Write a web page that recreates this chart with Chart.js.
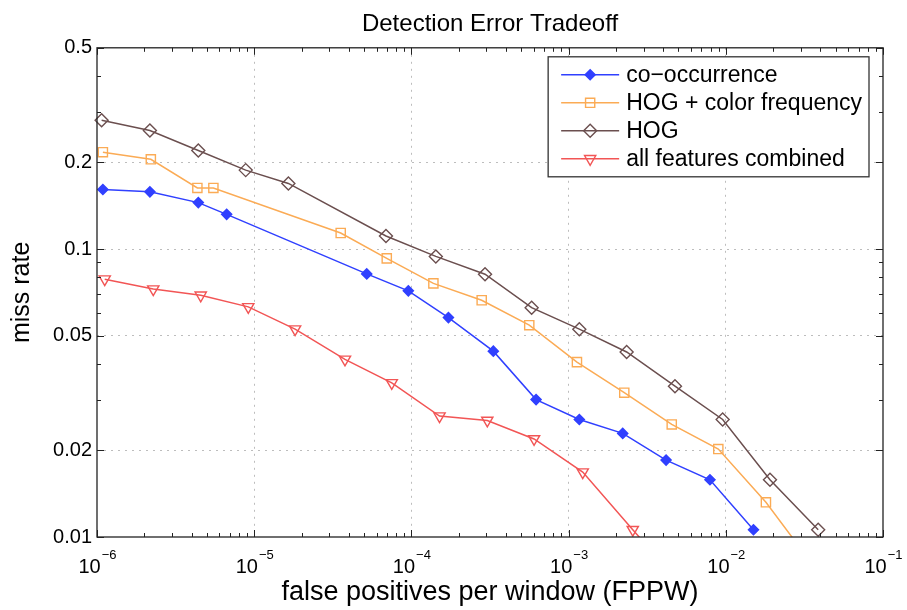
<!DOCTYPE html>
<html><head><meta charset="utf-8">
<script src="https://cdn.jsdelivr.net/npm/chart.js@4.4.1/dist/chart.umd.min.js"></script>
<style>html,body{margin:0;padding:0;background:#fff;overflow:hidden}canvas{display:block}</style>
</head><body>
<canvas id="c" width="907" height="610"></canvas>
<script>
const chartTitle = 'Detection Error Tradeoff';
const xAxisTitle = 'false positives per window (FPPW)';
const yAxisTitle = 'miss rate';
const seriesLabels = ['co\u2212occurrence', 'HOG + color frequency', 'HOG', 'all features combined'];

const xTickValues = [1e-6, 1e-5, 1e-4, 1e-3, 1e-2, 1e-1];
const xTickExponents = ['\u22126', '\u22125', '\u22124', '\u22123', '\u22122', '\u22121'];
const yTickValues = [0.01, 0.02, 0.05, 0.1, 0.2, 0.5];
const yTickLabels = ['0.01', '0.02', '0.05', '0.1', '0.2', '0.5'];

const cooccurFppw = [1.09e-6, 2.17e-6, 4.41e-6, 6.68e-6, 5.20e-5, 9.56e-5, 1.72e-4, 3.32e-4, 6.21e-4, 1.17e-3, 2.21e-3, 4.17e-3, 7.93e-3, 1.50e-2];
const cooccurMiss = [0.161, 0.158, 0.145, 0.132, 0.082, 0.0716, 0.0578, 0.0442, 0.0300, 0.0256, 0.0229, 0.0185, 0.0158, 0.0106];
const hogColorFppw = [1.09e-6, 2.20e-6, 4.35e-6, 5.50e-6, 3.55e-5, 6.97e-5, 1.38e-4, 2.80e-4, 5.62e-4, 1.13e-3, 2.26e-3, 4.53e-3, 8.96e-3, 1.80e-2, 3.64e-2];
const hogColorMiss = [0.217, 0.205, 0.163, 0.163, 0.1137, 0.0928, 0.0760, 0.0664, 0.0544, 0.0405, 0.0317, 0.0246, 0.0202, 0.0132, 0.0079];
const hogFppw = [1.07e-6, 2.17e-6, 4.41e-6, 8.83e-6, 1.65e-5, 6.89e-5, 1.43e-4, 2.94e-4, 5.82e-4, 1.17e-3, 2.34e-3, 4.75e-3, 9.55e-3, 1.91e-2, 3.87e-2];
const hogMiss = [0.280, 0.258, 0.220, 0.188, 0.169, 0.111, 0.0943, 0.0818, 0.0626, 0.0527, 0.0439, 0.0334, 0.0256, 0.0158, 0.0106];
const combinedFppw = [1.12e-6, 2.28e-6, 4.57e-6, 9.17e-6, 1.82e-5, 3.78e-5, 7.50e-5, 1.51e-4, 3.04e-4, 6.03e-4, 1.23e-3, 2.56e-3, 5.11e-3];
const combinedMiss = [0.0786, 0.0726, 0.0691, 0.0630, 0.0527, 0.0414, 0.0343, 0.0263, 0.0254, 0.0219, 0.0168, 0.0106, 0.0069];

const FONT = '"Liberation Sans", Arial, Helvetica, sans-serif';
Chart.defaults.font.family = FONT;
Chart.defaults.color = '#000';

function pts(xs, ys) { return xs.map((x, i) => ({ x: x, y: ys[i] })); }

const clipArea = { left: 6, top: 6, right: 6, bottom: 0 };
const datasets = [
  { label: seriesLabels[0], data: pts(cooccurFppw, cooccurMiss), borderColor: '#3040ff', backgroundColor: '#3040ff',
    pointStyle: 'rectRot', pointRadius: 5, pointBorderWidth: 1.5, borderWidth: 1.5 },
  { label: seriesLabels[1], data: pts(hogColorFppw, hogColorMiss), borderColor: '#fbab55', backgroundColor: 'rgba(0,0,0,0)',
    pointStyle: 'rect', pointRadius: 6.5, pointBorderWidth: 1.4, borderWidth: 1.5 },
  { label: seriesLabels[2], data: pts(hogFppw, hogMiss), borderColor: '#6b4f4f', backgroundColor: 'rgba(0,0,0,0)',
    pointStyle: 'rectRot', pointRadius: 6.5, pointBorderWidth: 1.4, borderWidth: 1.5 },
  { label: seriesLabels[3], data: pts(combinedFppw, combinedMiss), borderColor: '#f25555', backgroundColor: 'rgba(0,0,0,0)',
    pointStyle: 'triangle', pointRotation: 180, pointRadius: 6.5, pointBorderWidth: 1.4, borderWidth: 1.5 }
];
datasets.forEach(d => { d.clip = clipArea; d.tension = 0; d.fill = false; d.pointBackgroundColor = d.backgroundColor; d.pointBorderColor = d.borderColor; });

const LEGEND_FONT = 23;
const decor = {
  id: 'decor',
  afterDatasetsDraw(chart) {
    const ctx = chart.ctx, ca = chart.chartArea, xs = chart.scales.x, ys = chart.scales.y;
    ctx.save();
    ctx.strokeStyle = '#222';
    ctx.lineWidth = 1.3;
    ctx.strokeRect(ca.left, ca.top, ca.right - ca.left, ca.bottom - ca.top);
    ctx.lineWidth = 1;
    ctx.beginPath();
    for (let e = -6; e <= -1; e++) {
      for (let m = 1; m <= 9; m++) {
        const v = m * Math.pow(10, e);
        if (v > 1e-1 * 1.0001) break;
        const px = Math.round(xs.getPixelForValue(v)) + 0.5;
        const len = (m === 1) ? 7 : 4;
        ctx.moveTo(px, ca.bottom); ctx.lineTo(px, ca.bottom - len);
        ctx.moveTo(px, ca.top); ctx.lineTo(px, ca.top + len);
      }
    }
    for (let e = -2; e <= -1; e++) {
      for (let m = 1; m <= 9; m++) {
        const v = m * Math.pow(10, e);
        if (v > 0.5 * 1.0001) break;
        const py = Math.round(ys.getPixelForValue(v)) + 0.5;
        const major = yTickValues.some(t => Math.abs(t - v) < 1e-9);
        const len = major ? 7 : 4;
        ctx.moveTo(ca.left, py); ctx.lineTo(ca.left + len, py);
        ctx.moveTo(ca.right, py); ctx.lineTo(ca.right - len, py);
      }
    }
    ctx.stroke();
    ctx.restore();
  },
  afterDraw(chart) {
    const ctx = chart.ctx, ca = chart.chartArea, xs = chart.scales.x;
    ctx.save();
    ctx.fillStyle = '#000';
    ctx.textBaseline = 'alphabetic';
    xTickValues.forEach((v, i) => {
      const px = xs.getPixelForValue(v);
      ctx.font = '20px ' + FONT;
      const wBase = ctx.measureText('10').width;
      ctx.font = '13px ' + FONT;
      const wExp = ctx.measureText(xTickExponents[i]).width;
      const x0 = px - (wBase + wExp) / 2;
      ctx.font = '20px ' + FONT;
      ctx.textAlign = 'left';
      ctx.fillText('10', x0, ca.bottom + 36);
      ctx.font = '13px ' + FONT;
      ctx.fillText(xTickExponents[i], x0 + wBase + 1, ca.bottom + 22);
    });
    const bx1 = ca.right - 14, by0 = ca.top + 9;
    const rowH = 28;
    ctx.font = LEGEND_FONT + 'px ' + FONT;
    let maxW = 0;
    chart.data.datasets.forEach(d => { maxW = Math.max(maxW, ctx.measureText(d.label).width); });
    const bw = 78 + maxW + 7, bh = rowH * chart.data.datasets.length + 8;
    const bx0 = bx1 - bw;
    ctx.fillStyle = '#fff';
    ctx.fillRect(bx0, by0, bw, bh);
    ctx.strokeStyle = '#333';
    ctx.lineWidth = 1.3;
    ctx.strokeRect(bx0, by0, bw, bh);
    chart.data.datasets.forEach((d, i) => {
      const cy = by0 + 18 + i * rowH;
      ctx.strokeStyle = d.borderColor;
      ctx.lineWidth = d.borderWidth;
      ctx.beginPath(); ctx.moveTo(bx0 + 13, cy); ctx.lineTo(bx0 + 71, cy); ctx.stroke();
      ctx.fillStyle = d.pointBackgroundColor;
      ctx.strokeStyle = d.borderColor;
      ctx.lineWidth = d.pointBorderWidth;
      Chart.helpers.drawPoint(ctx, { pointStyle: d.pointStyle, radius: d.pointRadius, rotation: d.pointRotation || 0, borderWidth: d.pointBorderWidth }, bx0 + 42, cy);
      ctx.fillStyle = '#000';
      ctx.font = LEGEND_FONT + 'px ' + FONT;
      ctx.textAlign = 'left';
      ctx.textBaseline = 'middle';
      ctx.fillText(d.label, bx0 + 78, cy + 1);
    });
    ctx.restore();
  }
};

new Chart(document.getElementById('c'), {
  type: 'line',
  data: { datasets: datasets },
  options: {
    responsive: false,
    animation: false,
    devicePixelRatio: 1,
    layout: { padding: { left: 0, right: 24, top: 0, bottom: 0 } },
    plugins: {
      legend: { display: false },
      tooltip: { enabled: false },
      title: { display: true, text: chartTitle, fullSize: false, color: '#000',
        font: { size: 24, weight: 'normal', family: FONT, lineHeight: 1.2 }, padding: { top: 10, bottom: 9 } }
    },
    scales: {
      x: {
        type: 'logarithmic', min: 1e-6, max: 1e-1,
        afterBuildTicks: s => { s.ticks = xTickValues.map(v => ({ value: v })); },
        afterFit: s => { s.height = 73; },
        ticks: { display: false, autoSkip: false },
        grid: { drawTicks: false, lineWidth: 1, color: c => (c.tick && (c.tick.value <= 1e-6 * 1.001 || c.tick.value >= 1e-1 * 0.999)) ? 'rgba(0,0,0,0)' : '#bdbdbd' },
        border: { display: false, dash: [2, 5] },
        title: { display: true, text: xAxisTitle, color: '#000', font: { size: 27, family: FONT, lineHeight: 1.2 }, padding: { top: 0, bottom: 1 } }
      },
      y: {
        type: 'logarithmic', min: 0.01, max: 0.5,
        afterBuildTicks: s => { s.ticks = yTickValues.map(v => ({ value: v })); },
        afterFit: s => { s.width = 97; },
        ticks: { autoSkip: false, padding: 5, color: '#000', font: { size: 20, family: FONT },
          callback: (v, i) => yTickLabels[i] },
        grid: { drawTicks: false, lineWidth: 1, color: c => (c.tick && (c.tick.value <= 0.0101 || c.tick.value >= 0.499)) ? 'rgba(0,0,0,0)' : '#bdbdbd' },
        border: { display: false, dash: [2, 5] },
        title: { display: true, text: yAxisTitle, color: '#000', font: { size: 25, family: FONT, lineHeight: 1.2 }, padding: { top: 7, bottom: 0 } }
      }
    }
  },
  plugins: [decor]
});
</script>
</body></html>
